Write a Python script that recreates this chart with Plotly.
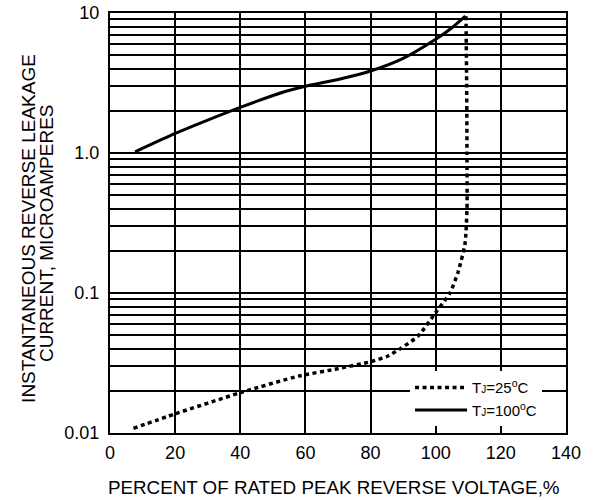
import plotly.graph_objects as go

# TJ = 25°C curve (dotted)
x25 = [7.2, 20, 40, 58, 70, 80, 85, 89, 94.6, 100.2, 104.3, 106.9, 109.0, 109.6, 109.6, 109.5, 109.3]
y25 = [0.0108, 0.0137, 0.0194, 0.0255, 0.0288, 0.0323, 0.0352, 0.0398, 0.0493, 0.0736, 0.0995, 0.142, 0.226, 0.40, 1.0, 3.0, 9.5]

# TJ = 100°C curve (solid)
x100 = [7.7, 20, 30, 40, 54, 60, 70, 80, 90, 100, 105, 109.1]
y100 = [1.02, 1.38, 1.72, 2.12, 2.76, 3.00, 3.35, 3.85, 4.74, 6.49, 7.85, 9.5]

x_ticks = [0, 20, 40, 60, 80, 100, 120, 140]
y_ticks = [0.01, 0.1, 1, 10]
y_ticktext = ["0.01", "0.1", "1.0", "10"]
y_minor = [m * d for d in [0.01, 0.1, 1] for m in range(2, 10)]

legend_25 = "T<span style='font-size:10px'>J</span>=25<sup>o</sup>C"
legend_100 = "T<span style='font-size:10px'>J</span>=100<sup>o</sup>C"

fig = go.Figure()
fig.add_trace(go.Scatter(x=x25, y=y25, mode="lines", name=legend_25,
                         line=dict(color="black", width=3.5, dash="4px,3.5px",
                                   shape="spline", smoothing=0.6)))
fig.add_trace(go.Scatter(x=x100, y=y100, mode="lines", name=legend_100,
                         line=dict(color="black", width=3, shape="spline", smoothing=0.6)))

font_main = "Liberation Sans, Arial, sans-serif"

fig.update_layout(
    width=596, height=500,
    margin=dict(l=110, r=30, t=13, b=67, autoexpand=False),
    paper_bgcolor="white", plot_bgcolor="white",
    font=dict(family=font_main, size=18, color="black"),
    showlegend=True,
    legend=dict(x=0.658, y=0.147, xanchor="left", yanchor="top",
                bgcolor="white", borderwidth=0,
                font=dict(family=font_main, size=15),
                itemwidth=52, tracegroupgap=0),
    xaxis=dict(range=[0, 140], tickvals=x_ticks, showgrid=True, gridcolor="black",
               gridwidth=2, showline=True, linecolor="black", linewidth=2, mirror=True,
               zeroline=False, ticks="", ticklabelstandoff=2, automargin=False,
               ticklabeloverflow="allow", tickfont=dict(size=18)),
    yaxis=dict(type="log", range=[-2, 1], tickvals=y_ticks, ticktext=y_ticktext,
               showgrid=True, gridcolor="black", gridwidth=2,
               minor=dict(tickvals=y_minor, showgrid=True, gridcolor="black", gridwidth=2, ticks=""),
               showline=True, linecolor="black", linewidth=2, mirror=True,
               zeroline=False, ticks="", ticklabelstandoff=5, automargin=False,
               ticklabeloverflow="allow", tickfont=dict(size=18)),
    annotations=[
        dict(text="PERCENT OF RATED PEAK REVERSE VOLTAGE,%", xref="paper", yref="paper",
             x=0.491, y=-0.1286, xanchor="center", yanchor="middle", showarrow=False,
             font=dict(size=18.8)),
        dict(text="INSTANTANEOUS REVERSE LEAKAGE", xref="paper", yref="paper",
             x=-0.1776, y=0.486, xanchor="center", yanchor="middle", showarrow=False,
             textangle=-90, font=dict(size=19)),
        dict(text="CURRENT, MICROAMPERES", xref="paper", yref="paper",
             x=-0.1404, y=0.476, xanchor="center", yanchor="middle", showarrow=False,
             textangle=-90, font=dict(size=19)),
    ],
)

fig.write_html("out.html", config={"displayModeBar": False},
               post_script="document.body.style.margin='0';")
